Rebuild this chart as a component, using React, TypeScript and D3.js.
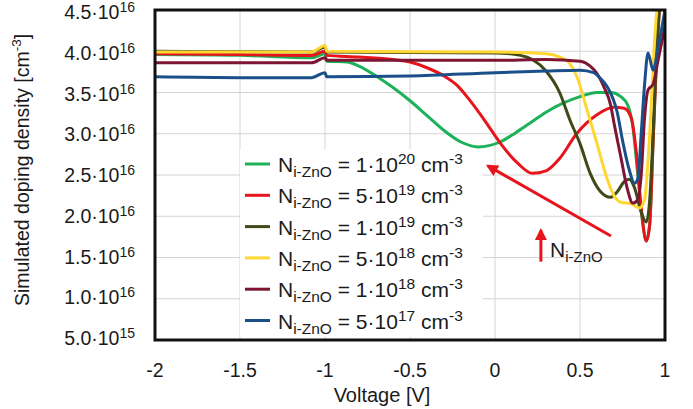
import React from 'react'
import * as d3 from 'd3'

// doping density in units of 1e16 cm^-3, voltage in V
const greenSeries: [number, number][] = [
  [-2, 3.96], [-1.5, 3.95], [-1.08, 3.92], [-1.0, 3.97], [-0.99, 3.88], [-0.87, 3.87],
  [-0.8, 3.82], [-0.7, 3.7], [-0.6, 3.56], [-0.5, 3.4], [-0.4, 3.22], [-0.3, 3.04],
  [-0.2, 2.9], [-0.1, 2.84], [0.03, 2.9], [0.12, 3.01], [0.2, 3.12],
  [0.3, 3.26], [0.4, 3.37], [0.5, 3.45], [0.6, 3.5], [0.68, 3.5], [0.74, 3.45],
  [0.78, 3.35], [0.81, 3.1], [0.84, 2.5], [0.87, 1.9], [0.89, 1.7], [0.91, 1.9],
  [0.93, 2.9], [0.95, 3.9], [0.97, 4.6],
]
const redSeries: [number, number][] = [
  [-2, 3.97], [-1.5, 3.96], [-1.08, 3.95], [-1.0, 4.0], [-0.99, 3.95], [-0.8, 3.93],
  [-0.6, 3.9], [-0.5, 3.87], [-0.4, 3.8], [-0.3, 3.7], [-0.22, 3.58], [-0.15, 3.41],
  [-0.05, 3.13], [0.03, 2.89], [0.13, 2.65], [0.22, 2.52], [0.3, 2.55], [0.38, 2.7],
  [0.48, 3.0], [0.6, 3.23], [0.7, 3.32], [0.76, 3.31], [0.8, 3.2], [0.83, 2.8],
  [0.86, 2.1], [0.89, 1.7], [0.91, 1.9], [0.93, 2.9], [0.95, 3.9], [0.97, 4.6],
]
const oliveSeries: [number, number][] = [
  [-2, 4.0], [-1.08, 3.99], [-1.0, 4.05], [-0.99, 3.99], [0, 3.98], [0.15, 3.95],
  [0.22, 3.9], [0.3, 3.76], [0.38, 3.5], [0.44, 3.17], [0.5, 2.88], [0.56, 2.52],
  [0.62, 2.3], [0.68, 2.23], [0.72, 2.3], [0.76, 2.42], [0.79, 2.45], [0.82, 2.35],
  [0.86, 2.05], [0.89, 1.93], [0.91, 2.2], [0.93, 3.0], [0.95, 4.0], [0.97, 4.6],
]
const yellowSeries: [number, number][] = [
  [-2, 3.99], [-1.08, 3.99], [-1.0, 4.07], [-0.99, 4.0], [0, 3.99], [0.3, 3.97],
  [0.38, 3.93], [0.44, 3.85], [0.48, 3.7], [0.54, 3.3], [0.6, 2.88], [0.66, 2.45],
  [0.7, 2.25], [0.74, 2.17], [0.8, 2.15], [0.85, 2.1], [0.88, 2.2], [0.91, 3.0],
  [0.935, 4.0], [0.955, 4.6],
]
const maroonSeries: [number, number][] = [
  [-2, 3.86], [-1.08, 3.86], [-1.0, 3.92], [-0.99, 3.89], [0, 3.89], [0.3, 3.9],
  [0.5, 3.88], [0.56, 3.82], [0.6, 3.73], [0.64, 3.57], [0.68, 3.35], [0.7, 3.13],
  [0.74, 2.72], [0.78, 2.32], [0.81, 2.16], [0.84, 2.2], [0.86, 2.5], [0.88, 3.2],
  [0.9, 3.53], [0.93, 3.6], [0.96, 3.9], [1.0, 4.3],
]
const blueSeries: [number, number][] = [
  [-2, 3.69], [-1.5, 3.68], [-1.08, 3.68], [-1.0, 3.74], [-0.99, 3.69], [-0.5, 3.7],
  [0, 3.74], [0.3, 3.76], [0.5, 3.77], [0.58, 3.74], [0.62, 3.67], [0.66, 3.57],
  [0.72, 3.25], [0.75, 2.92], [0.79, 2.56], [0.82, 2.4], [0.84, 2.45], [0.86, 3.0],
  [0.88, 3.6], [0.9, 3.98], [0.93, 3.77], [0.96, 4.05], [1.0, 4.5],
]

const seriesColors = ['#1db25a', '#e8141b', '#3e4a17', '#ffd732', '#7d1533', '#1b4f8a']
const legendMantissa = ['1', '5', '1', '5', '1', '5']
const legendExponent = ['20', '19', '19', '18', '18', '17']

const xTicks = [-2, -1.5, -1, -0.5, 0, 0.5, 1]
const xTickLabels = ['-2', '-1.5', '-1', '-0.5', '0', '0.5', '1']
const yTicks = [0.5, 1, 1.5, 2, 2.5, 3, 3.5, 4, 4.5]
const yTickMantissa = ['5.0', '1.0', '1.5', '2.0', '2.5', '3.0', '3.5', '4.0', '4.5']
const yTickExponent = ['15', '16', '16', '16', '16', '16', '16', '16', '16']

// annotation arrows, in data units
const bigArrow: [number, number][] = [[0.682, 1.76], [-0.041, 2.61]]
const smallArrow: [number, number][] = [[0.27, 1.45], [0.27, 1.83]]
const annotationText: [number, number] = [0.324, 1.51]

const font = '"Liberation Sans", Arial, sans-serif'

export default function App() {
  const width = 693
  const height = 409
  const left = 155, right = 665, top = 10, bottom = 340
  const x = d3.scaleLinear().domain([-2, 1]).range([left, right])
  const y = d3.scaleLinear().domain([0.5, 4.5]).range([bottom, top])
  // tick label baselines sit a little tighter than the grid
  const yLabel = d3.scaleLinear().domain([0.5, 4.5]).range([345, 19])
  const line = d3.line<[number, number]>()
    .x(d => x(d[0]))
    .y(d => y(d[1]))
    .curve(d3.curveMonotoneX)
  const series = [greenSeries, redSeries, oliveSeries, yellowSeries, maroonSeries, blueSeries]
  const red = '#e8141b'

  return (
    <svg width={width} height={height} style={{ position: 'absolute', left: 0, top: 0, background: '#fff' }}
      fontFamily={font}>
      <defs>
        <clipPath id="plot">
          <rect x={left} y={top} width={right - left} height={bottom - top} />
        </clipPath>
        <marker id="head" viewBox="0 0 10 10" refX={8} refY={5} markerWidth={14} markerHeight={12}
          markerUnits="userSpaceOnUse" orient="auto">
          <path d="M0,0 L10,5 L0,10 z" fill={red} />
        </marker>
      </defs>
      <rect width={width} height={height} fill="#fff" />
      {xTicks.map(t => (
        <line key={'gx' + t} x1={x(t)} x2={x(t)} y1={top} y2={bottom} stroke="#d4d4d4" strokeWidth={1} />
      ))}
      {yTicks.map(t => (
        <line key={'gy' + t} x1={left} x2={right} y1={y(t)} y2={y(t)} stroke="#d4d4d4" strokeWidth={1} />
      ))}
      <g clipPath="url(#plot)">
        {series.map((s, i) => (
          <path key={i} d={line(s) || ''} fill="none" stroke={seriesColors[i]} strokeWidth={3}
            strokeLinejoin="round" strokeLinecap="round" />
        ))}
      </g>
      <rect x={240} y={149} width={243} height={188} fill="#fff" />
      {seriesColors.map((c, i) => {
        const ly = 164 + i * 31.3
        return (
          <g key={'lg' + i}>
            <line x1={245} x2={270} y1={ly} y2={ly} stroke={c} strokeWidth={3} />
            <text x={278} y={ly + 8} fontSize={21} fill="#1a1a1a">
              <tspan>N</tspan>
              <tspan fontSize={15.5} dy={5}>i-ZnO</tspan>
              <tspan dy={-5}>{' = ' + legendMantissa[i] + '·10'}</tspan>
              <tspan fontSize={15.5} dy={-8}>{legendExponent[i]}</tspan>
              <tspan dy={8}>{' cm'}</tspan>
              <tspan fontSize={15.5} dy={-8}>-3</tspan>
            </text>
          </g>
        )
      })}
      <line x1={x(bigArrow[0][0])} y1={y(bigArrow[0][1])} x2={x(bigArrow[1][0])} y2={y(bigArrow[1][1])}
        stroke={red} strokeWidth={3} markerEnd="url(#head)" />
      <line x1={x(smallArrow[0][0])} y1={y(smallArrow[0][1])} x2={x(smallArrow[1][0])} y2={y(smallArrow[1][1])}
        stroke={red} strokeWidth={3} markerEnd="url(#head)" />
      <text x={x(annotationText[0])} y={y(annotationText[1])} fontSize={21} fill="#1a1a1a">
        <tspan>N</tspan>
        <tspan fontSize={15} dy={5}>i-ZnO</tspan>
      </text>
      <rect x={left} y={top} width={right - left} height={bottom - top} fill="none" stroke="#111" strokeWidth={3} />
      {yTicks.map((t, i) => (
        <text key={'yl' + t} x={135} y={yLabel(t)} textAnchor="end" fontSize={19.5} fill="#1a1a1a">
          <tspan>{yTickMantissa[i]}·10</tspan>
          <tspan fontSize={14} dy={-7}>{yTickExponent[i]}</tspan>
        </text>
      ))}
      {xTicks.map((t, i) => (
        <text key={'xl' + t} x={x(t)} y={377} textAnchor="middle" fontSize={19.5} fill="#1a1a1a">
          {xTickLabels[i]}
        </text>
      ))}
      <text x={382} y={402} textAnchor="middle" fontSize={20} fill="#1a1a1a">Voltage [V]</text>
      <text transform="translate(29,170) rotate(-90)" textAnchor="middle" fontSize={19.5} fill="#1a1a1a">
        <tspan>Simulated doping density [cm</tspan>
        <tspan fontSize={13.5} dy={-8}>-3</tspan>
        <tspan dy={8}>]</tspan>
      </text>
    </svg>
  )
}
